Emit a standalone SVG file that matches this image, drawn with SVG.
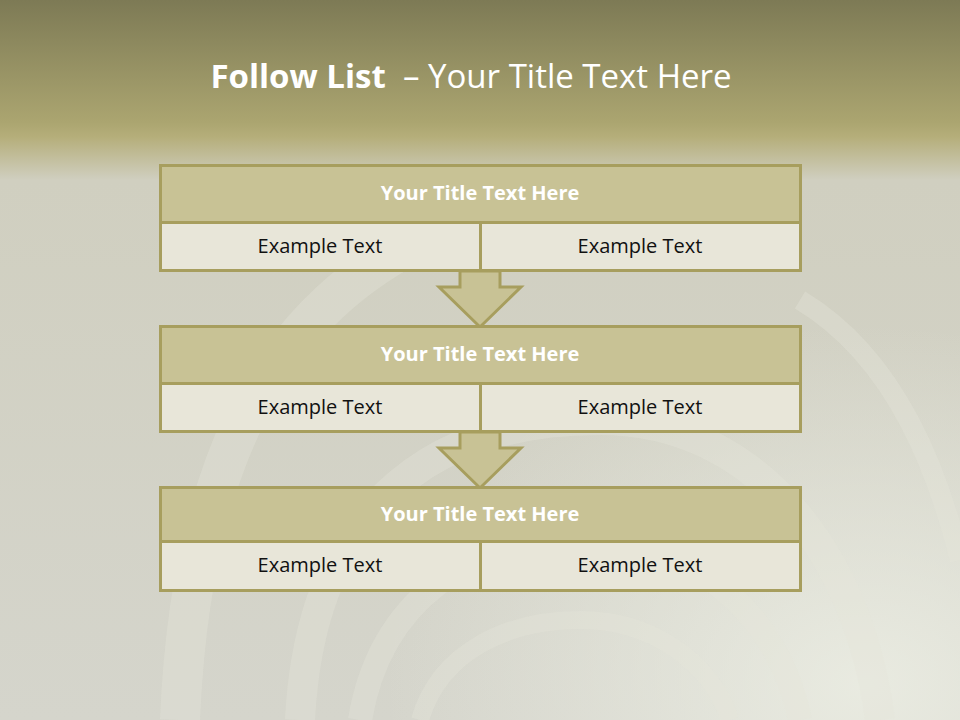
<svg xmlns="http://www.w3.org/2000/svg" width="960" height="720" viewBox="0 0 960 720">
<defs>
<linearGradient id="bg" x1="0" y1="0" x2="0" y2="1">
<stop offset="0" stop-color="#7d7a55"/>
<stop offset="0.17" stop-color="#aba570"/>
<stop offset="0.19" stop-color="#b5ae7a"/>
<stop offset="0.25" stop-color="#d0cfc0"/>
<stop offset="1" stop-color="#d5d5cc"/>
</linearGradient>
<radialGradient id="glow" cx="0.9" cy="0.95" r="0.5">
<stop offset="0" stop-color="#eef0e6" stop-opacity="0.8"/>
<stop offset="1" stop-color="#eef0e6" stop-opacity="0"/>
</radialGradient>
<style>
.hdr{fill:#c8c295;stroke:#a79e5e;stroke-width:3}
.cell{fill:#e8e6d9;stroke:#a79e5e;stroke-width:3}
.ht{font-family:"Open Sans","Liberation Sans",sans-serif;font-size:20px;font-weight:bold;fill:#ffffff;text-anchor:middle}
.ct{font-family:"Open Sans","Liberation Sans",sans-serif;font-size:20px;fill:#111111;text-anchor:middle}
.arr{fill:#c8c295;stroke:#a79e5e;stroke-width:3;stroke-linejoin:miter}
.sw{fill:none;stroke:#e4e4da;stroke-opacity:0.35}
</style>
</defs>
<rect width="960" height="720" fill="url(#bg)"/>
<rect width="960" height="720" fill="url(#glow)"/>
<g id="swirls">
<path class="sw" stroke-width="40" d="M180 720 C190 480 260 320 420 240"/>
<path class="sw" stroke-width="30" d="M300 720 C310 520 420 420 600 420 C760 420 860 560 880 720"/>
<path class="sw" stroke-width="24" d="M360 720 C380 600 470 540 580 540 C700 540 780 620 800 720"/>
<path class="sw" stroke-width="18" d="M420 720 C440 650 510 620 580 620 C650 620 710 660 730 720"/>
<path class="sw" stroke-width="20" d="M800 300 C900 360 940 480 960 560"/>
</g>
<text x="471" y="88" font-family="Open Sans, Liberation Sans, sans-serif" font-size="33" fill="#ffffff" text-anchor="middle" xml:space="preserve"><tspan font-weight="bold">Follow List</tspan>  – Your Title Text Here</text>
<g id="connectors">
<path class="arr" d="M460 271 L500 271 L500 287 L521 287 L480 327 L439 287 L460 287 Z"/>
<path class="arr" d="M460 432 L500 432 L500 448 L521 448 L480 488 L439 448 L460 448 Z"/>
</g>
<g id="node1">
<rect class="hdr" x="160.5" y="165.5" width="640" height="57"/>
<rect class="cell" x="160.5" y="222.5" width="320" height="48"/>
<rect class="cell" x="480.5" y="222.5" width="320" height="48"/>
<text class="ht" x="480" y="200">Your Title Text Here</text>
<text class="ct" x="320" y="253">Example Text</text>
<text class="ct" x="640" y="253">Example Text</text>
</g>
<g id="node2">
<rect class="hdr" x="160.5" y="326.5" width="640" height="57"/>
<rect class="cell" x="160.5" y="383.5" width="320" height="48"/>
<rect class="cell" x="480.5" y="383.5" width="320" height="48"/>
<text class="ht" x="480" y="361">Your Title Text Here</text>
<text class="ct" x="320" y="414">Example Text</text>
<text class="ct" x="640" y="414">Example Text</text>
</g>
<g id="node3">
<rect class="hdr" x="160.5" y="487.5" width="640" height="54"/>
<rect class="cell" x="160.5" y="541.5" width="320" height="49"/>
<rect class="cell" x="480.5" y="541.5" width="320" height="49"/>
<text class="ht" x="480" y="521">Your Title Text Here</text>
<text class="ct" x="320" y="572">Example Text</text>
<text class="ct" x="640" y="572">Example Text</text>
</g>
</svg>
